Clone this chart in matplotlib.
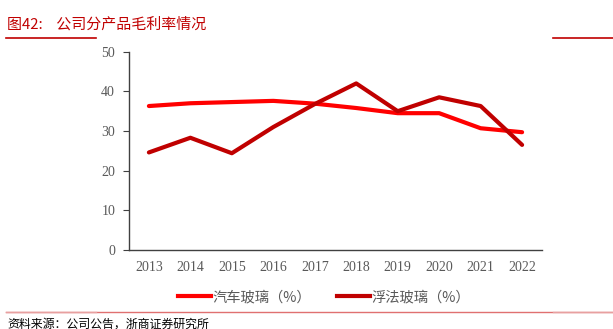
import matplotlib
matplotlib.use("Agg")
import matplotlib.pyplot as plt
from matplotlib.lines import Line2D

years = ["2013", "2014", "2015", "2016", "2017", "2018", "2019", "2020", "2021", "2022"]
auto_glass = [36.3, 37.0, 37.3, 37.6, 36.9, 35.8, 34.5, 34.5, 30.7, 29.7]
float_glass = [24.6, 28.3, 24.4, 31.0, 36.8, 42.0, 35.0, 38.5, 36.3, 26.5]
labels = ["汽车玻璃（%）", "浮法玻璃（%）"]
title = "图42:    公司分产品毛利率情况"
source = "资料来源：公司公告，浙商证券研究所"

cjk = ["Noto Sans CJK SC", "DejaVu Sans"]
serif = ["Liberation Serif", "DejaVu Serif"]

fig = plt.figure(figsize=(6.13, 3.29), dpi=100)
ax = fig.add_axes([129/613, 1-250/329, (542-129)/613, (250-51.7)/329])

x = list(range(len(years)))
ax.plot(x, auto_glass, color="#FF0000", lw=3, solid_capstyle="round", label=labels[0])
ax.plot(x, float_glass, color="#C00000", lw=3, solid_capstyle="round", label=labels[1])

ax.set_xlim(-0.48, len(years)-1+0.48)
ax.set_ylim(0, 50)
ax.set_yticks([0, 10, 20, 30, 40, 50])
ax.set_xticks(x)
ax.set_xticklabels(years)
for s in ["top", "right"]:
    ax.spines[s].set_visible(False)
for s in ["left", "bottom"]:
    ax.spines[s].set_color("#404040")
    ax.spines[s].set_linewidth(1)
ax.tick_params(axis="y", direction="out", length=4, color="#404040", pad=6)
ax.tick_params(axis="x", length=0, pad=8)
for lab in ax.get_xticklabels() + ax.get_yticklabels():
    lab.set_family(serif)
    lab.set_fontsize(10)
    lab.set_color("#595959")

leg = fig.legend(handles=[Line2D([], [], color="#FF0000", lw=3), Line2D([], [], color="#C00000", lw=3)],
                 labels=labels, loc="center", bbox_to_anchor=(324/613, 1-297/329), ncol=2,
                 frameon=False, handlelength=2.3, handletextpad=0.1, columnspacing=1.8,
                 prop={"family": cjk, "size": 10.3})
for t in leg.get_texts():
    t.set_color("#595959")

fig.text(7/613, 1-24/329, title, family=cjk, fontsize=10.8, color="#C00000", va="center", ha="left")
fig.add_artist(Line2D([6/613, 96/613], [1-37.7/329, 1-37.7/329], color="#C00000", lw=1.2))
fig.add_artist(Line2D([553/613, 1.0], [1-37.7/329, 1-37.7/329], color="#C00000", lw=1.2))
fig.add_artist(Line2D([6/613, 1.0], [1-312/329, 1-312/329], color="#E07070", lw=1))
fig.add_artist(Line2D([6/613, 96/613], [1-312/329, 1-312/329], color="#E8A0A0", lw=1))
fig.add_artist(Line2D([553/613, 1.0], [1-312/329, 1-312/329], color="#E8A0A0", lw=1))
fig.text(7/613, 1-324/329, source, family=cjk, fontsize=8.6, color="#000000", va="center", ha="left")

fig.savefig("out.png", dpi=100)
